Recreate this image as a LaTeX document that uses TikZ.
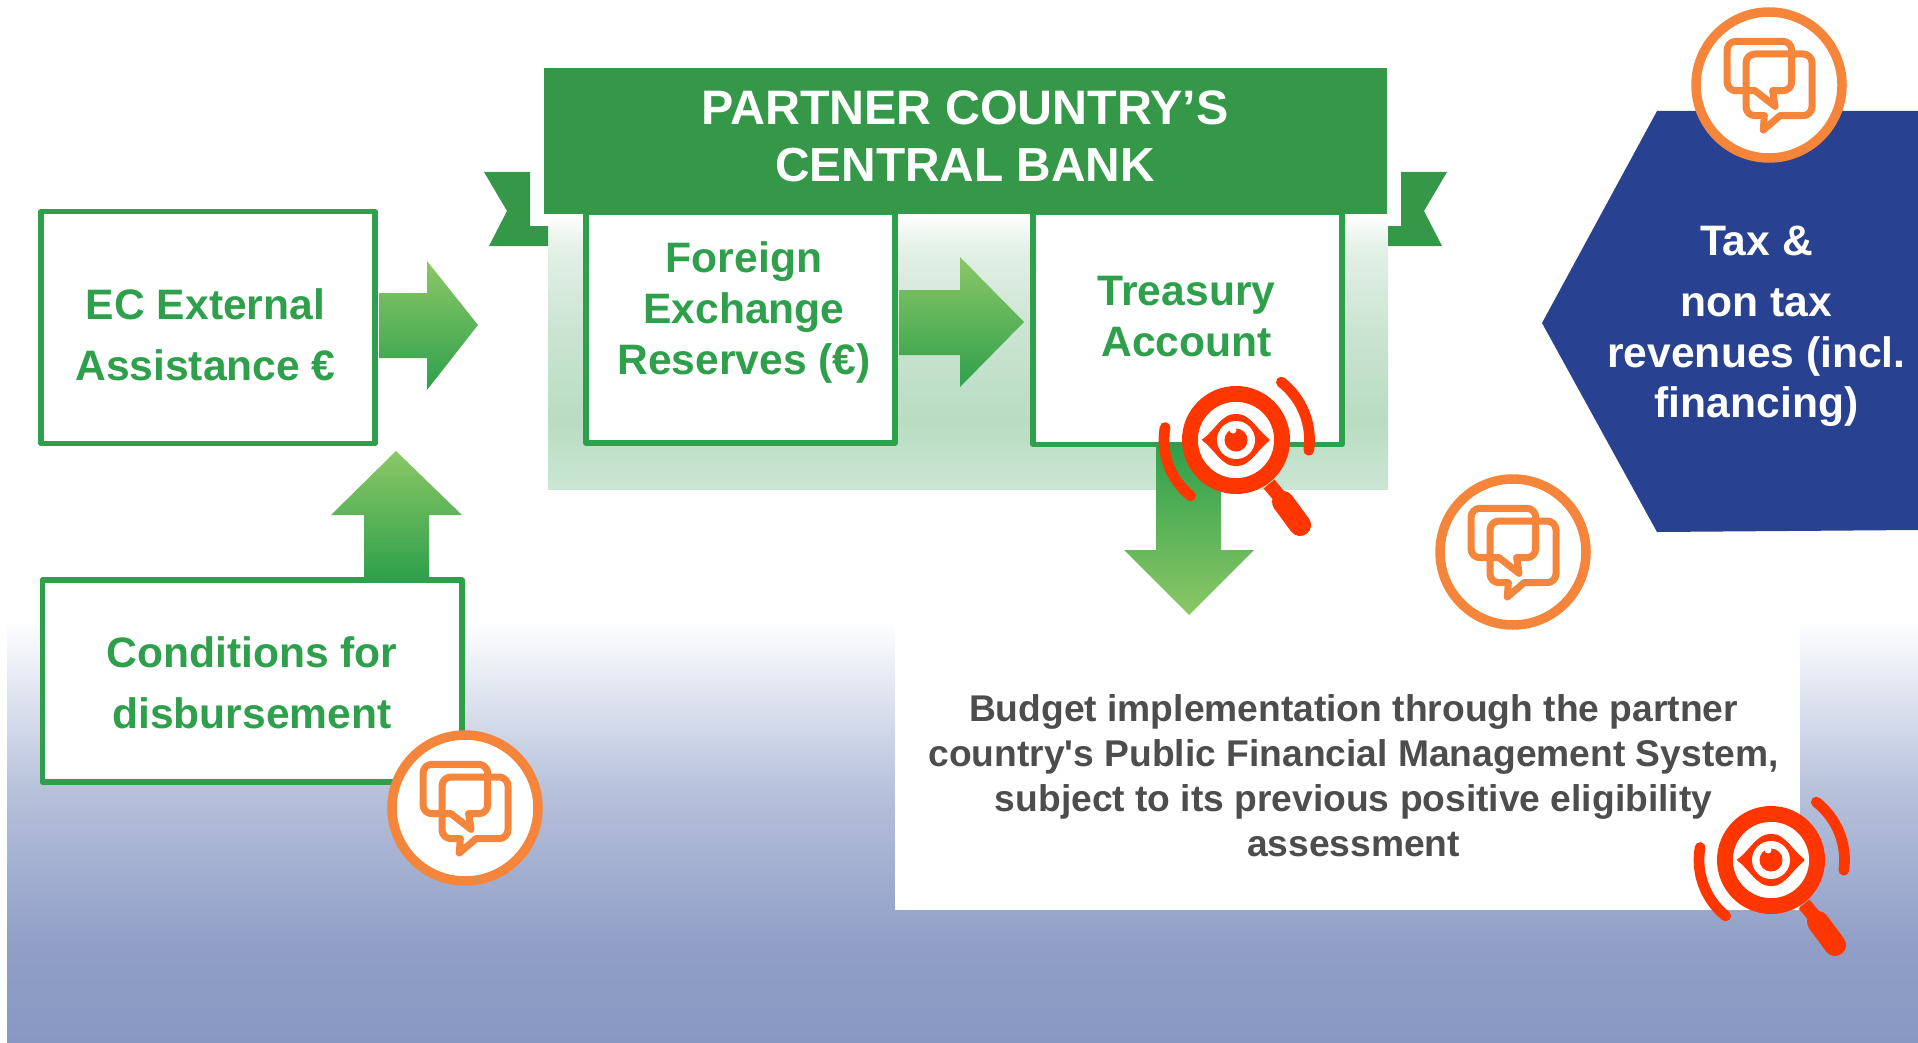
\documentclass[tikz,border=0pt]{standalone}
\usepackage{fontspec}
\setmainfont{Liberation Sans}
\newfontfamily\plainsans{Liberation Sans}
\definecolor{hdr}{HTML}{359849}
\definecolor{grn}{HTML}{2EA04C}
\definecolor{lite}{HTML}{8CC766}
\definecolor{navy}{HTML}{284190}
\definecolor{org}{HTML}{F6853C}
\definecolor{red1}{HTML}{FF3600}
\definecolor{txt}{HTML}{4D4D4D}
\definecolor{bga}{HTML}{B5C0DA}
\definecolor{bgm}{HTML}{919FC7}
\definecolor{bgb}{HTML}{8898C2}
\definecolor{ba}{HTML}{E2F0E6}
\definecolor{bb}{HTML}{CBE4D2}
\definecolor{bc}{HTML}{B8DCC2}
\definecolor{bd}{HTML}{CBE6D3}
\tikzset{
  x=1pt,y=-1pt,
  box/.style={draw=grn,line width=5.5pt,fill=white,line join=round,outer sep=0pt,inner sep=0pt},
  lbl/.style={align=center,font=\bfseries\fontsize{42.6}{61}\selectfont,inner sep=0pt},
  bubble/.style={org,line width=7pt,line join=round,line cap=round},
  talk/.pic={
    \draw[org,line width=9.5pt,fill=white] (0,0) circle [radius=73pt];
    \draw[bubble,rounded corners=9pt]
      (-14,5.7) -- (-42,5.7) -- (-42,-43.7) -- (22.7,-43.7) -- (22.7,5.7) -- (3.7,5.7);
    \draw[bubble] (-14,5.7) -- (6,21.3) -- (3.7,5.7);
    \draw[bubble,rounded corners=9pt]
      (11,30.7) -- (43,30.7) -- (43,-31) -- (-23,-31) -- (-23,30.7) -- (-4.7,30.7);
    \draw[bubble] (11,30.7) -- (-5.7,45) -- (-4.7,30.7);
  },
  seek/.pic={
    \begin{scope}[y=1pt]
      \draw[red1,line width=16pt] (0,0) circle [radius=46pt];
      \fill[white] (0,0) circle [radius=38pt];
      \draw[red1,line width=14pt] (33,-44) -- (48,-62);
      \draw[red1,line width=22pt,line cap=round] (47,-62) -- (64,-85);
      \draw[red1,line width=10.7pt,line cap=round] (170:72pt) arc [start angle=170,end angle=231,radius=72pt];
      \draw[red1,line width=10.7pt,line cap=round] (52:73.5pt) arc [start angle=52,end angle=-8,radius=73.5pt];
      \fill[red1,rounded corners=1.5pt] (-34.5,0) .. controls (-22,9) and (-14,26) .. (0,26) .. controls (14,26) and (22,9) .. (34.5,0) .. controls (22,-9) and (14,-26) .. (0,-26) .. controls (-14,-26) and (-22,-9) .. (-34.5,0) -- cycle;
      \fill[white] (0,0) circle [radius=19pt];
      \fill[red1] (0,0) circle [radius=11.5pt];
      \fill[white] (-3,10) circle [radius=3.5pt];
    \end{scope}
  }
}
\begin{document}
\begin{tikzpicture}
\useasboundingbox (0,0) rectangle (1918,1043);
\fill[white] (0,0) rectangle (1918,1043);
% background band
\shade[top color=white,bottom color=bga] (7,620) rectangle (1918,793.5);
\shade[top color=bga,bottom color=bgm] (7,793) rectangle (1918,943.5);
\shade[top color=bgm,bottom color=bgb] (7,943) rectangle (1918,1043);
% central gradient
\shade[top color=white,bottom color=ba] (548,214) rectangle (1388,250.5);
\shade[top color=ba,bottom color=bb] (548,250) rectangle (1388,330.5);
\shade[top color=bb,bottom color=bc] (548,330) rectangle (1388,420.5);
\shade[top color=bc,bottom color=bd] (548,420) rectangle (1388,489);
% ribbons
\fill[hdr] (484,172) -- (530,172) -- (530,226) -- (548,226) -- (548,246) -- (489,246) -- (507,211) -- cycle;
\fill[hdr] (1447,172) -- (1401,172) -- (1401,226) -- (1388,226) -- (1388,246) -- (1442,246) -- (1424,211) -- cycle;
% boxes
\node[box,minimum width=334pt,minimum height=232pt,anchor=north west] (ec) at (41,211.5) {};
\node[box,minimum width=309pt,minimum height=231pt,anchor=north west] (fx) at (586,212) {};
\node[box,minimum width=309pt,minimum height=232.5pt,anchor=north west] (ta) at (1033,212) {};
\node[box,minimum width=419.5pt,minimum height=202pt,anchor=north west] (cd) at (42.5,580) {};
% header
\node[fill=hdr,minimum width=843pt,minimum height=146pt,anchor=north west,inner sep=0pt,outer sep=0pt] (hd) at (544,68) {};
\node[lbl,text=white,font=\bfseries\fontsize{48.4}{57.5}\selectfont] (hdt) at (965,136.5) {PARTNER COUNTRY’S\\{\fontsize{47.8}{57.5}\selectfont CENTRAL BANK}};
% white budget box
\node[fill=white,minimum width=905pt,minimum height=290pt,anchor=north west,inner sep=0pt,outer sep=0pt] (bdg) at (895,620) {};
% hexagon
\fill[navy] (1657,111) -- (1918,111) -- (1918,530) -- (1657,532) -- (1542,323) -- cycle;
% block arrows
\shade[top color=lite,bottom color=grn] (379,293) -- (427,293) -- (427,261) -- (478,325) -- (427,390) -- (427,358) -- (379,358) -- cycle;
\shade[top color=lite,bottom color=grn] (899,290) -- (960,290) -- (960,257) -- (1024,322) -- (960,387) -- (960,355) -- (899,355) -- cycle;
\shade[top color=lite,bottom color=grn] (396,451) -- (462,515) -- (429,515) -- (429,579) -- (364,579) -- (364,515) -- (331,515) -- cycle;
\shade[top color=grn,bottom color=lite] (1156,445) -- (1221,445) -- (1221,550) -- (1254,550) -- (1189,615) -- (1124,550) -- (1156,550) -- cycle;
% texts
\node[lbl,text=grn] (ect) at (205.5,334.5) {EC External\\Assistance €};
\node[lbl,text=grn] (cdt) at (252,683) {Conditions for\\disbursement};
\node[lbl,text=grn,font=\bfseries\fontsize{42.6}{51}\selectfont] (fxt) at (744,312) {Foreign\\Exchange\\Reserves (€)};
\node[lbl,text=grn,font=\bfseries\fontsize{42.6}{51}\selectfont] (tat) at (1186.5,317) {Treasury\\Account};
\node[lbl,text=white,font=\bfseries\fontsize{42.6}{50.5}\selectfont] (tx) at (1756.5,326.5) {Tax \&\\[11pt]non tax\\revenues (incl.\\financing)};
\node[lbl,text=txt,font=\plainsans\bfseries\fontsize{37.2}{45}\selectfont] (bdt) at (1353.5,776) {Budget implementation through the partner\\country's Public Financial Management System,\\subject to its previous positive eligibility\\assessment};
% icons
\pic (t1) at (1769,85) {talk};
\pic (t2) at (1513,552) {talk};
\pic (t3) at (465,808) {talk};
\pic (s1) at (1236,440) {seek};
\pic (s2) at (1771,860) {seek};
\end{tikzpicture}
\end{document}
